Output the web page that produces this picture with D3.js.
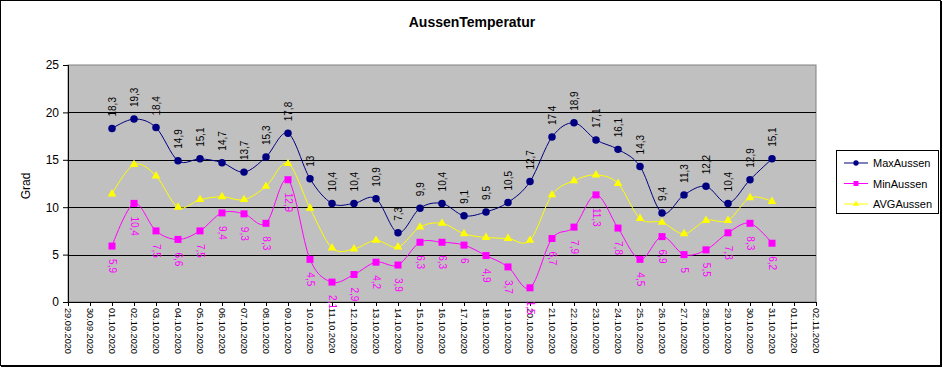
<!DOCTYPE html>
<html>
<head>
<meta charset="utf-8">
<script src="https://cdn.jsdelivr.net/npm/d3@7"></script>
<style>
  body { margin:0; background:#fff; }
  text { font-family: "Liberation Sans", Arial, sans-serif; }
</style>
</head>
<body>
<svg class="chart"></svg>
<script>
var width  = 943;
var height = 368;

var days = ["29.09.2020","30.09.2020","01.10.2020","02.10.2020","03.10.2020","04.10.2020","05.10.2020",
  "06.10.2020","07.10.2020","08.10.2020","09.10.2020","10.10.2020","11.10.2020","12.10.2020",
  "13.10.2020","14.10.2020","15.10.2020","16.10.2020","17.10.2020","18.10.2020","19.10.2020",
  "20.10.2020","21.10.2020","22.10.2020","23.10.2020","24.10.2020","25.10.2020","26.10.2020",
  "27.10.2020","28.10.2020","29.10.2020","30.10.2020","31.10.2020","01.11.2020","02.11.2020"];
var dataDays = days.slice(2, 33);

var maxAussen = [18.3,19.3,18.4,14.9,15.1,14.7,13.7,15.3,17.8,13,10.4,10.4,10.9,7.3,9.9,10.4,
  9.1,9.5,10.5,12.7,17.4,18.9,17.1,16.1,14.3,9.4,11.3,12.2,10.4,12.9,15.1];
var minAussen = [5.9,10.4,7.5,6.6,7.5,9.4,9.3,8.3,12.9,4.5,2.1,2.9,4.2,3.9,6.3,6.3,
  6,4.9,3.7,1.5,6.7,7.9,11.3,7.8,4.5,6.9,5,5.5,7.3,8.3,6.2];
var avgAussen = [11.4,14.5,13.3,10.0,10.8,11.1,10.8,12.2,14.6,9.9,5.7,5.6,6.5,5.8,7.9,8.3,
  7.2,6.8,6.7,6.5,11.3,12.8,13.4,12.5,8.8,8.4,7.2,8.6,8.6,11.0,10.6];

var yTicks = [0,5,10,15,20,25];

var plotLeft = 68, plotRight = 816, plotTop = 65, plotBottom = 302;

var svg = d3.select('.chart')
    .attr("width",width)
    .attr("height",height)

// outer frame
svg.append('rect')
    .attr("x",0.5).attr("y",0.5)
    .attr("width",940).attr("height",365)
    .attr("fill","#fff")
    .attr("stroke","#000")
svg.append('path')
    .attr("d","M941.5,1V367M1,366.5H942")
    .attr("stroke","#000")
    .attr("stroke-width",1)

var xscale = d3.scalePoint()
    .domain(days)
    .range([plotLeft,plotRight])
    .padding(0);

var yscale = d3.scaleLinear()
    .domain([0,25])
    .range([plotBottom,plotTop]);

// plot area
svg.append('rect')
    .attr("x",plotLeft).attr("y",plotTop)
    .attr("width",plotRight-plotLeft).attr("height",plotBottom-plotTop)
    .attr("fill","#c0c0c0")
    .attr("stroke","#808080")

svg.append('g')
    .selectAll('line')
    .data(yTicks.filter(d=>d>0 && d<25))
    .enter()
    .append('line')
    .attr("x1",plotLeft).attr("x2",plotRight)
    .attr("y1",d=>Math.round(yscale(d))+0.5)
    .attr("y2",d=>Math.round(yscale(d))+0.5)
    .attr("stroke","#000")

var yAxis = d3.axisLeft(yscale)
    .tickValues(yTicks)
    .tickSize(5)
    .tickPadding(4)
    .tickFormat(d=>d);

var gy = svg.append('g')
    .attr("transform",`translate(${plotLeft},0)`)
    .call(yAxis)
gy.select('.domain').attr("stroke","#000")
gy.selectAll('text')
    .attr("font-size","12px")
    .attr("font-family","Liberation Sans, Arial, sans-serif")
    .attr("fill","#000")

var xAxis = d3.axisBottom(xscale)
    .tickSize(4)
    .tickSizeOuter(0);

var gx = svg.append('g')
    .attr("transform",`translate(0,${plotBottom})`)
    .call(xAxis)
gx.select('.domain').attr("stroke","#000")
gx.selectAll('text')
    .attr("font-size","9.2px")
    .attr("font-family","Liberation Sans, Arial, sans-serif")
    .attr("fill","#000")
    .attr("text-anchor","start")
    .attr("dy","0.35em")
    .attr("transform","translate(0,6) rotate(90)")
    .attr("x",0).attr("y",0)

svg.append('text')
    .attr("transform",`translate(30,186) rotate(-90)`)
    .attr("text-anchor","middle")
    .attr("font-size","12px")
    .text("Grad")

svg.append('text')
    .attr("x",472).attr("y",27)
    .attr("text-anchor","middle")
    .attr("font-size","14px")
    .attr("font-weight","bold")
    .text("AussenTemperatur")

var series = [
  {name:"MaxAussen", values:maxAussen, color:"#000080", shape:d3.symbolCircle, size:44},
  {name:"MinAussen", values:minAussen, color:"#ff00ff", shape:d3.symbolSquare, size:49},
  {name:"AVGAussen", values:avgAussen, color:"#ffff00", shape:d3.symbolTriangle, size:32}
];

var line = d3.line()
    .x((d,i)=>xscale(dataDays[i]))
    .y(d=>yscale(d))
    .curve(d3.curveCatmullRom.alpha(0));

// draw avg first, then min, then max on top
[2,1,0].forEach(function(k){
    var s = series[k];
    svg.append('path')
        .datum(s.values)
        .attr("d",line)
        .attr("fill","none")
        .attr("stroke",s.color)
        .attr("stroke-width",1)
    svg.append('g')
        .selectAll('path')
        .data(s.values)
        .enter()
        .append('path')
        .attr("d",d3.symbol().type(s.shape).size(s.size))
        .attr("transform",(d,i)=>`translate(${xscale(dataDays[i])},${yscale(d)})`)
        .attr("fill",s.color)
});

function fmt(v){ return String(v).replace(".",","); }

// max labels (above, reading upward)
svg.append('g')
    .selectAll('text')
    .data(maxAussen)
    .enter()
    .append('text')
    .attr("transform",(d,i)=>`translate(${xscale(dataDays[i])+3.5},${yscale(d)-12}) rotate(-90)`)
    .attr("font-size","10px")
    .attr("fill","#000")
    .text(fmt)

// min labels (below, reading downward)
svg.append('g')
    .selectAll('text')
    .data(minAussen)
    .enter()
    .append('text')
    .attr("transform",(d,i)=>`translate(${xscale(dataDays[i])-3.5},${yscale(d)+13}) rotate(90)`)
    .attr("font-size","10px")
    .attr("fill","#ff00ff")
    .text(fmt)

// legend
var legend = svg.append('g')
    .attr("transform","translate(836,150)")
legend.append('rect')
    .attr("x",0.5).attr("y",0.5)
    .attr("width",102).attr("height",63)
    .attr("fill","#fff")
    .attr("stroke","#000")
series.forEach(function(s,i){
    var y = 13 + i*20.5;
    legend.append('line')
        .attr("x1",8).attr("x2",32)
        .attr("y1",y).attr("y2",y)
        .attr("stroke",s.color)
        .attr("stroke-width",1)
    legend.append('path')
        .attr("d",d3.symbol().type(s.shape).size(s.size*0.5))
        .attr("transform",`translate(20,${y})`)
        .attr("fill",s.color)
    legend.append('text')
        .attr("x",37).attr("y",y+4)
        .attr("font-size","11px")
        .text(s.name)
});
</script>
</body>
</html>
